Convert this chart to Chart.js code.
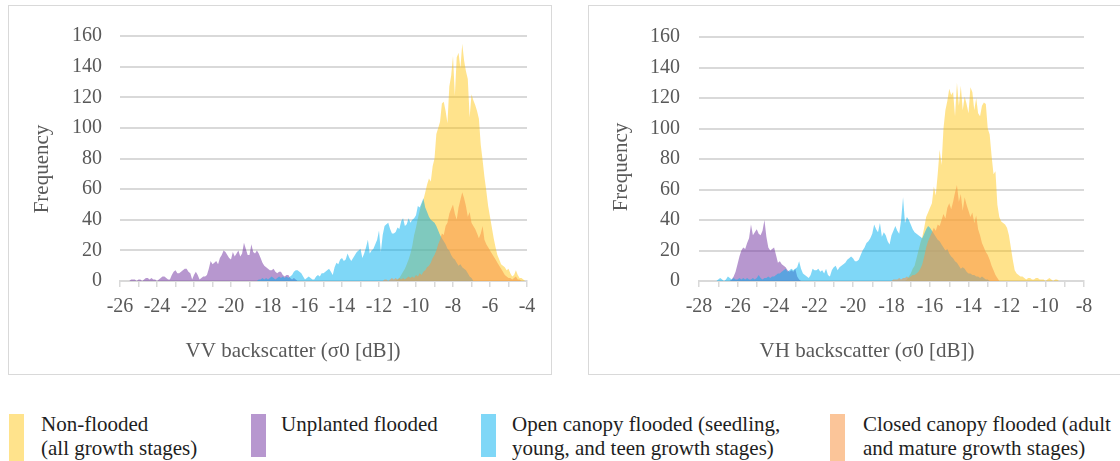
<!DOCTYPE html>
<html>
<head>
<meta charset="utf-8">
<script src="https://cdn.jsdelivr.net/npm/chart.js@4.4.1/dist/chart.umd.min.js"></script>
<style>
  html, body { margin: 0; padding: 0; background: #fff; overflow: hidden; }
  body { width: 1120px; height: 461px; position: relative; font-family: "Liberation Serif", "Times New Roman", serif; }
  .panel { position: absolute; top: 5px; width: 544px; height: 370px; box-sizing: border-box; border: 1px solid #d9d9d9; background: #fff; }
  .panel canvas { display: block; }
  #vvPanel { left: 8px; }
  #vhPanel { left: 588px; }
  .swatch { position: absolute; top: 414px; width: 15px; }
  .legend-text { position: absolute; top: 412px; font-size: 21px; line-height: 24px; color: #1e1e1e; white-space: nowrap; }
</style>
</head>
<body>
<div class="panel" id="vvPanel"><canvas id="vvChart" width="542" height="368"></canvas></div>
<div class="panel" id="vhPanel"><canvas id="vhChart" width="542" height="368"></canvas></div>
<div id="legend"></div>
<script>
// histogram bins are 0.1 dB wide, each series starts at its first bin
const binWidth = 0.1

const vvNonFloodedStart = -11.2
const vvNonFlooded = [0, 0, 1, 2, 4, 6, 8, 11, 14, 18,
    23, 30, 35, 41, 46, 50, 53, 58, 63, 67,
    65, 75, 80, 96, 100, 104, 116, 117, 111, 103,
    127, 134, 147, 121, 146, 149, 139, 155, 144, 137,
    132, 107, 122, 118, 115, 111, 106, 89, 79, 68,
    59, 49, 42, 35, 28, 22, 17, 14, 11, 10,
    9, 7, 8, 5, 3, 4, 7, 4, 2, 2,
    1, 0]

const vvUnplantedStart = -25.6
const vvUnplanted = [0, 0, 1, 1, 1, 0, 1, 1, 0, 1,
    2, 2, 1, 2, 1, 1, 0, 1, 2, 3,
    3, 2, 1, 1, 4, 6, 7, 5, 5, 6,
    7, 8, 8, 6, 5, 1, 4, 6, 4, 1,
    2, 3, 3, 4, 8, 13, 11, 12, 13, 11,
    15, 17, 20, 19, 17, 15, 14, 19, 16, 18,
    20, 16, 18, 25, 21, 17, 17, 24, 19, 18,
    20, 18, 15, 12, 10, 9, 8, 7, 7, 8,
    6, 5, 6, 6, 4, 3, 4, 4, 2, 1,
    2, 1, 0]

const vvOpenCanopyStart = -18.6
const vvOpenCanopy = [0, 1, 1, 2, 1, 2, 1, 2, 3, 2,
    1, 2, 3, 2, 3, 2, 3, 2, 3, 4,
    6, 7, 7, 6, 5, 3, 1, 2, 3, 2,
    1, 1, 3, 4, 3, 5, 5, 6, 7, 8,
    6, 4, 9, 12, 11, 14, 15, 13, 14, 18,
    15, 13, 15, 17, 19, 20, 21, 15, 18, 22,
    27, 18, 20, 21, 24, 27, 33, 19, 30, 36,
    37, 38, 34, 31, 31, 32, 35, 34, 39, 41,
    36, 37, 41, 38, 40, 41, 43, 49, 48, 51,
    54, 48, 45, 42, 40, 39, 38, 36, 33, 30,
    28, 26, 24, 21, 20, 17, 15, 14, 12, 10,
    11, 9, 8, 7, 5, 3, 2, 0]

const vvClosedCanopyStart = -11.8
const vvClosedCanopy = [0, 1, 1, 0, 1, 2, 1, 2, 1, 2,
    1, 2, 1, 2, 3, 2, 3, 2, 4, 3,
    5, 4, 6, 7, 9, 10, 12, 15, 17, 20,
    24, 27, 31, 30, 36, 38, 44, 47, 50, 44,
    40, 48, 53, 58, 54, 49, 42, 45, 38, 36,
    34, 31, 28, 31, 36, 27, 24, 22, 20, 18,
    16, 14, 12, 10, 8, 6, 4, 3, 2, 2,
    1, 2, 3, 1, 1, 0]

const vhNonFloodedStart = -17.3
const vhNonFlooded = [0, 1, 3, 5, 8, 10, 15, 20, 25, 29,
    35, 42, 45, 48, 51, 62, 56, 70, 86, 76,
    100, 112, 118, 126, 122, 124, 108, 130, 115, 128,
    112, 121, 116, 110, 127, 124, 112, 120, 110, 108,
    115, 117, 116, 100, 96, 82, 70, 72, 50, 42,
    39, 38, 37, 35, 30, 22, 14, 7, 5, 4,
    3, 3, 2, 1, 2, 2, 1, 1, 2, 2,
    1, 1, 1, 0, 1, 2, 1, 0, 1, 1, 0]

const vhUnplantedStart = -26.4
const vhUnplanted = [0, 1, 3, 6, 11, 16, 20, 22, 21, 25,
    28, 37, 30, 32, 34, 31, 30, 33, 40, 29,
    22, 20, 21, 22, 17, 12, 13, 11, 10, 9,
    7, 6, 7, 6, 8, 3, 1, 0]

const vhOpenCanopyStart = -27.1
const vhOpenCanopy = [0, 1, 2, 1, 0, 1, 3, 2, 1, 2,
    1, 1, 2, 1, 2, 1, 2, 1, 1, 2,
    1, 2, 4, 2, 1, 2, 2, 3, 2, 3,
    3, 4, 5, 5, 6, 7, 8, 6, 7, 8,
    7, 8, 9, 13, 8, 5, 4, 3, 2, 4,
    8, 7, 7, 8, 6, 7, 5, 8, 4, 3,
    7, 9, 10, 7, 9, 10, 11, 12, 14, 15,
    16, 15, 13, 13, 14, 17, 20, 22, 25, 26,
    28, 31, 37, 34, 32, 38, 29, 32, 30, 26,
    24, 30, 33, 36, 33, 31, 40, 55, 38, 42,
    40, 37, 34, 32, 31, 30, 29, 28, 31, 34,
    36, 35, 33, 31, 29, 27, 26, 24, 22, 20,
    21, 18, 16, 15, 13, 12, 10, 8, 9, 8,
    6, 5, 5, 4, 4, 3, 3, 2, 3, 2,
    1, 1, 0]

const vhClosedCanopyStart = -18.0
const vhClosedCanopy = [0, 1, 1, 1, 2, 1, 2, 2, 3, 2,
    3, 4, 4, 5, 6, 8, 11, 16, 22, 26,
    29, 32, 35, 33, 37, 36, 40, 44, 41, 48,
    51, 47, 52, 58, 63, 52, 57, 46, 55, 50,
    46, 42, 45, 38, 43, 34, 30, 25, 22, 19,
    17, 14, 10, 7, 4, 2, 0]

const yTicks = [0, 20, 40, 60, 80, 100, 120, 140, 160]
const vvRange = [-26, -4]
const vhRange = [-28, -8]

const seriesNames = [
    ['Non-flooded', '(all growth stages)'],
    ['Unplanted flooded'],
    ['Open canopy flooded (seedling,', 'young, and teen growth stages)'],
    ['Closed canopy flooded (adult', 'and mature growth stages)']
]
const seriesColors = [
    'rgba(255, 192, 0, 0.45)',
    'rgba(112, 48, 160, 0.5)',
    'rgba(0, 176, 240, 0.5)',
    'rgba(247, 150, 70, 0.55)'
]

const textColor = '#595959'
const gridColor = '#d9d9d9'

Chart.defaults.font.family = '"Liberation Serif", "Times New Roman", serif'
Chart.defaults.font.size = 20
Chart.defaults.color = textColor

function toPoints(start, values) {
    return values.map((y, i) => ({ x: +(start + i * binWidth).toFixed(2), y }))
}

const axisTitles = {
    id: 'axisTitles',
    afterDraw(chart, args, opts) {
        const ctx = chart.ctx
        ctx.save()
        ctx.font = '21px "Liberation Serif", "Times New Roman", serif'
        ctx.fillStyle = textColor
        ctx.textAlign = 'center'
        ctx.textBaseline = 'middle'
        ctx.fillText(opts.xText, opts.xAt[0], opts.xAt[1])
        ctx.translate(opts.yAt[0], opts.yAt[1])
        ctx.rotate(-Math.PI / 2)
        ctx.fillText(opts.yText, 0, 0)
        ctx.restore()
    }
}

function makeChart(id, series, range, box) {
    const datasets = series.map((s, i) => ({
        label: seriesNames[i].join(' '),
        data: toPoints(s[0], s[1]),
        backgroundColor: seriesColors[i],
        borderColor: 'rgba(0,0,0,0)',
        borderWidth: 0,
        pointRadius: 0,
        fill: 'origin',
        tension: 0,
        // non-flooded underneath, closed canopy on top
        order: 4 - i
    }))

    return new Chart(document.getElementById(id).getContext('2d'), {
        type: 'line',
        data: { datasets },
        plugins: [axisTitles],
        options: {
            responsive: false,
            animation: false,
            events: [],
            layout: {
                padding: { left: 0, top: box.top, right: box.right, bottom: 0 }
            },
            scales: {
                x: {
                    type: 'linear',
                    min: range[0],
                    max: range[1],
                    afterFit: (scale) => { scale.height = box.xHeight },
                    ticks: {
                        stepSize: 1,
                        autoSkip: false,
                        maxRotation: 0,
                        padding: 8,
                        callback: function (value) {
                            return value % 2 === 0 ? String(value) : ''
                        }
                    },
                    grid: {
                        drawOnChartArea: false,
                        drawTicks: true,
                        tickLength: 6,
                        color: gridColor,
                        lineWidth: 1.5
                    },
                    border: { color: gridColor, width: 2 }
                },
                y: {
                    min: yTicks[0],
                    max: yTicks[yTicks.length - 1],
                    afterFit: (scale) => { scale.width = box.yWidth },
                    afterBuildTicks: (scale) => {
                        scale.ticks = yTicks.map(v => ({ value: v }))
                    },
                    ticks: { padding: box.yPad },
                    grid: { drawTicks: false, color: gridColor, lineWidth: 2 },
                    border: { display: false }
                }
            },
            plugins: {
                legend: { display: false },
                tooltip: { enabled: false },
                axisTitles: {
                    xText: box.xTitle,
                    xAt: box.xTitleAt,
                    yText: 'Frequency',
                    yAt: box.yTitleAt
                }
            }
        }
    })
}

makeChart('vvChart', [
    [vvNonFloodedStart, vvNonFlooded],
    [vvUnplantedStart, vvUnplanted],
    [vvOpenCanopyStart, vvOpenCanopy],
    [vvClosedCanopyStart, vvClosedCanopy]
], vvRange, {
    top: 27, right: 24, yWidth: 111, xHeight: 93, yPad: 18,
    xTitle: 'VV backscatter (σ0 [dB])', xTitleAt: [284, 345], yTitleAt: [33, 163]
})

makeChart('vhChart', [
    [vhNonFloodedStart, vhNonFlooded],
    [vhUnplantedStart, vhUnplanted],
    [vhOpenCanopyStart, vhOpenCanopy],
    [vhClosedCanopyStart, vhClosedCanopy]
], vhRange, {
    top: 27, right: 47, yWidth: 110, xHeight: 93, yPad: 19,
    xTitle: 'VH backscatter (σ0 [dB])', xTitleAt: [278, 345], yTitleAt: [32, 161]
})

// shared legend under both panels
const legendSlots = [
    { swatch: 9, text: 41, h: 47 },
    { swatch: 251, text: 281, h: 43 },
    { swatch: 481, text: 512, h: 43 },
    { swatch: 830, text: 863, h: 47 }
]
const legend = document.getElementById('legend')
seriesNames.forEach((lines, i) => {
    const sw = document.createElement('div')
    sw.className = 'swatch'
    sw.style.left = legendSlots[i].swatch + 'px'
    sw.style.height = legendSlots[i].h + 'px'
    sw.style.background = seriesColors[i]
    legend.appendChild(sw)
    const tx = document.createElement('div')
    tx.className = 'legend-text'
    tx.style.left = legendSlots[i].text + 'px'
    tx.innerHTML = lines.join('<br>')
    legend.appendChild(tx)
})
</script>
</body>
</html>
